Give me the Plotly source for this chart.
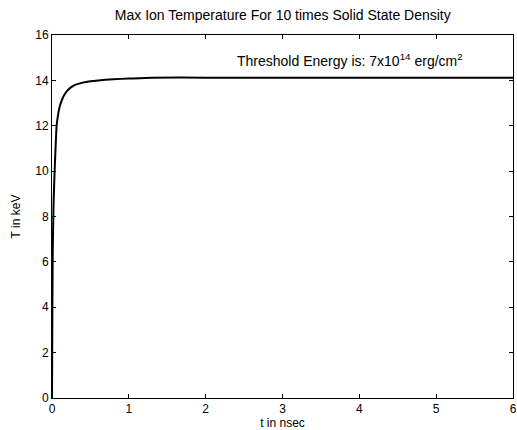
import plotly.graph_objects as go

t_ns = [0, 0.005, 0.01, 0.02, 0.03, 0.04, 0.05, 0.06, 0.08, 0.1, 0.12, 0.15, 0.2, 0.25,
        0.3, 0.4, 0.5, 0.6, 0.8, 1.0, 1.3, 2, 3, 4, 5, 6]
T_kev = [0, 4, 6.5, 8.5, 9.6, 10.5, 11.3, 12.0, 12.5, 12.85, 13.05, 13.3, 13.55, 13.7,
         13.8, 13.9, 13.96, 14.0, 14.05, 14.08, 14.12, 14.12, 14.12, 14.12, 14.12, 14.12]
x_ticks = [0, 1, 2, 3, 4, 5, 6]
y_ticks = [0, 2, 4, 6, 8, 10, 12, 14, 16]

font = "Liberation Sans, Arial, sans-serif"

fig = go.Figure()
fig.add_trace(go.Scatter(x=t_ns, y=T_kev, mode="lines",
                         line=dict(color="black", width=2, shape="spline", smoothing=0.6),
                         showlegend=False, hoverinfo="skip"))

axis_common = dict(showgrid=False, zeroline=False, showline=True, linecolor="black",
                   linewidth=1, mirror="ticks", ticks="inside", ticklen=4, tickcolor="black",
                   automargin=False, ticklabeloverflow="allow",
                   tickfont=dict(family=font, size=12, color="black"))

fig.update_layout(
    width=517, height=430,
    paper_bgcolor="white", plot_bgcolor="white",
    margin=dict(l=52, r=4, t=35, b=32),
    title=dict(text="Max Ion Temperature For 10 times Solid State Density",
               x=0.547, xanchor="center", y=0.965, yanchor="middle",
               font=dict(family=font, size=14, color="black")),
    xaxis=dict(range=[0, 6], tickvals=x_ticks, ticktext=[str(v) for v in x_ticks],
               title=dict(text="t in nsec", standoff=13,
                          font=dict(family=font, size=12, color="black")),
               **axis_common),
    yaxis=dict(range=[0, 16], tickvals=y_ticks, ticktext=[str(v) for v in y_ticks],
               title=dict(text="T in keV", standoff=12,
                          font=dict(family=font, size=12, color="black")),
               **axis_common),
    annotations=[dict(text="Threshold Energy is: 7x10<sup>14</sup> erg/cm<sup>2</sup>",
                      x=3.88, y=14.9, xref="x", yref="y", showarrow=False,
                      xanchor="center", yanchor="middle",
                      font=dict(family=font, size=14, color="black"))],
)

fig.write_html("out.html", config={"displayModeBar": False},
               post_script="document.body.style.margin='0';document.body.style.overflow='hidden';")
